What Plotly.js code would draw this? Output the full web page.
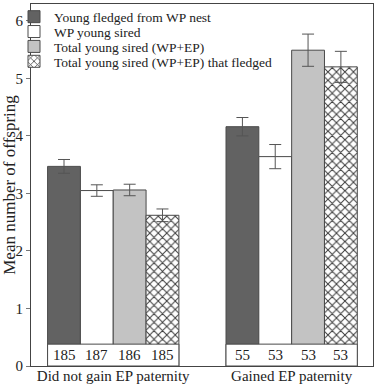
<!DOCTYPE html>
<html><head><meta charset="utf-8">
<script src="https://cdn.plot.ly/plotly-3.0.1.min.js"></script>
<style>html,body{margin:0;padding:0;background:#fff}#chart{width:375px;height:385px}</style>
</head><body><div id="chart"></div>
<script>
const groups = ["Did not gain EP paternity", "Gained EP paternity"];
const seriesNames = ["Young fledged from WP nest", "WP young sired", "Total young sired (WP+EP)", "Total young sired (WP+EP) that fledged"];
const means = [
  [3.47, 4.16],
  [3.05, 3.64],
  [3.06, 5.49],
  [2.62, 5.20]
];
const errs = [
  [0.12, 0.16],
  [0.10, 0.21],
  [0.10, 0.28],
  [0.11, 0.27]
];
const sampleSizes = [
  [185, 55],
  [187, 53],
  [186, 53],
  [185, 53]
];
const yTicks = [0, 1, 2, 3, 4, 5, 6];

const font = "Liberation Serif, Times New Roman, serif";
const fills = ["#626262", "#ffffff", "#c3c3c3", "#ffffff"];
const barW = 0.184;
const boxTop = 0.38;
const gx = groups.map((g, i) => i);
const legendRowsPx = [14, 29, 44, 59];

const traces = seriesNames.map((name, s) => {
  const t = {
    type: "bar",
    name: name,
    x: gx.map(g => g + (s - 1.5) * barW),
    y: means[s],
    width: barW,
    legend: s === 0 ? "legend" : "legend" + (s + 1),
    marker: {color: fills[s], line: {color: "#4a4a4a", width: 1}},
    error_y: {type: "data", array: errs[s], visible: true, color: "#555", thickness: 1, width: 6},
    hoverinfo: "skip"
  };
  if (s === 3) {
    t.marker.pattern = {shape: "x", fgcolor: "#3a3a3a", bgcolor: "#ffffff", size: 6, solidity: 0.3};
  }
  return t;
});

const shapes = gx.map(g => ({
  type: "rect", xref: "x", yref: "y", layer: "above",
  x0: g - 2 * barW, x1: g + 2 * barW, y0: 0, y1: boxTop,
  fillcolor: "#ffffff", line: {color: "#4a4a4a", width: 1}
}));

const annotations = [];
sampleSizes.forEach((row, s) => row.forEach((n, g) => {
  annotations.push({
    x: g + (s - 1.5) * barW, y: boxTop / 2, xref: "x", yref: "y",
    text: String(n), showarrow: false,
    font: {family: font, size: 15, color: "#222"}
  });
}));

const layout = {
  width: 375, height: 385,
  margin: {l: 31, r: 2, t: 1, b: 19},
  paper_bgcolor: "#fff", plot_bgcolor: "#fff",
  barmode: "overlay",
  showlegend: true,
  font: {family: font, size: 15, color: "#222"},
  xaxis: {
    range: [-0.461, 1.456], tickvals: gx, ticktext: groups,
    showline: true, mirror: true, linecolor: "#444", linewidth: 1,
    ticks: "", showgrid: false, zeroline: false,
    ticklabelstandoff: -4,
    tickfont: {family: font, size: 15, color: "#222"}
  },
  yaxis: {
    range: [0, 6.293], tickvals: yTicks,
    showline: true, mirror: true, linecolor: "#444", linewidth: 1,
    ticks: "outside", ticklen: 4, tickcolor: "#777",
    showgrid: false, zeroline: false,
    tickfont: {family: font, size: 15, color: "#222"},
    title: {text: "Mean number of offspring", font: {family: font, size: 17, color: "#222"}, standoff: 3}
  },
  shapes: shapes,
  annotations: annotations
};
legendRowsPx.forEach((py, s) => {
  const key = s === 0 ? "legend" : "legend" + (s + 1);
  layout[key] = {
    x: (14 - 31) / 342, xanchor: "left", xref: "paper",
    y: (366 - py) / 365, yanchor: "middle", yref: "paper",
    bgcolor: "rgba(0,0,0,0)", borderwidth: 0,
    font: {family: font, size: 13.5, color: "#222"}
  };
});

Plotly.newPlot("chart", traces, layout, {displayModeBar: false, staticPlot: true});
</script></body></html>
